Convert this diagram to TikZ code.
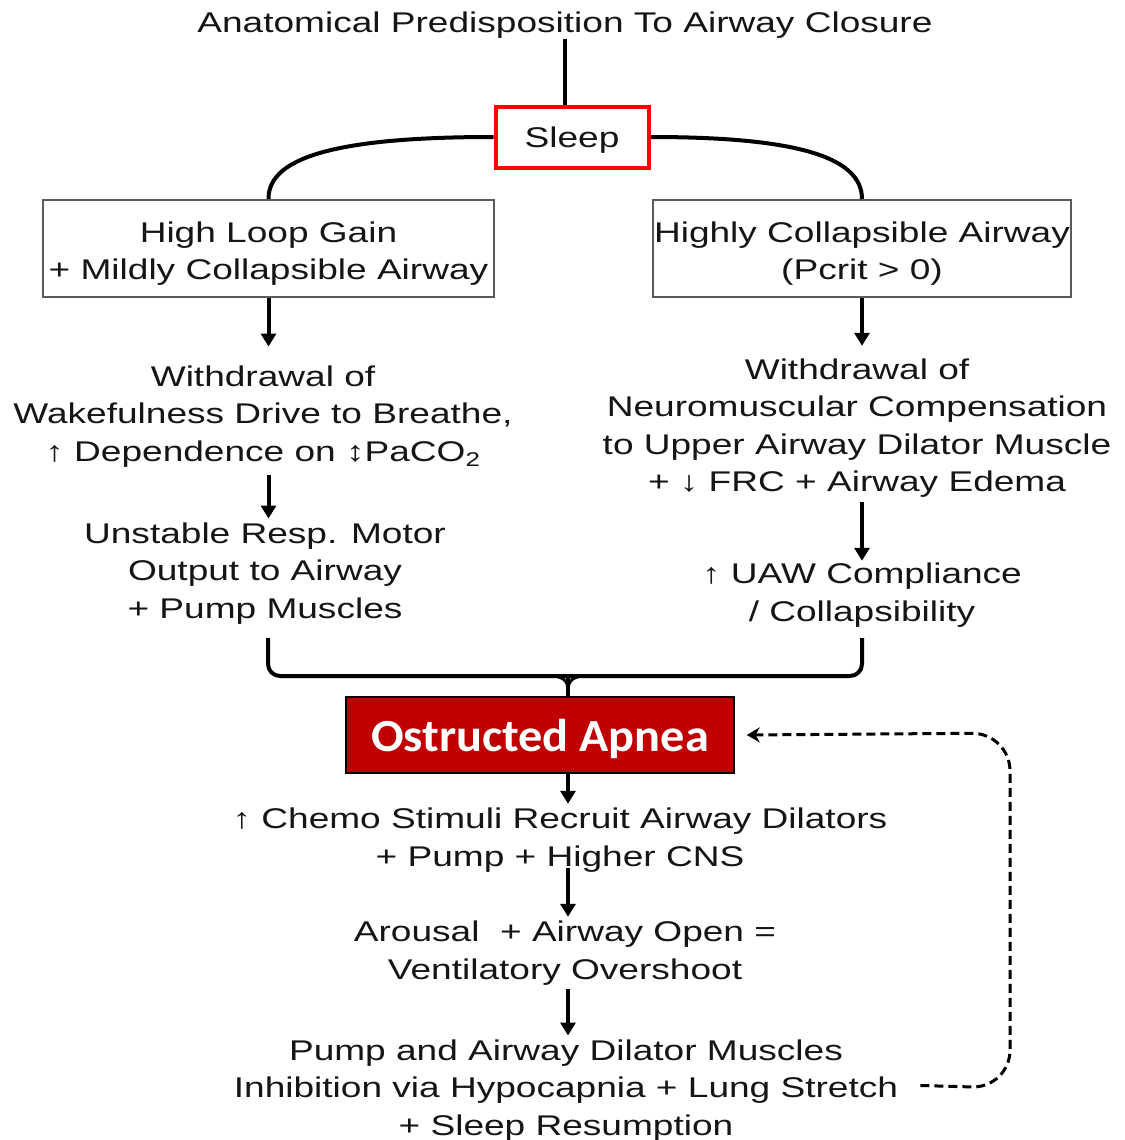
\documentclass[tikz,border=0pt]{standalone}
\usepackage{fontspec}
\setmainfont[FakeStretch=1.3]{Liberation Sans}
\newfontfamily\apneafont[FakeStretch=1.05]{Carlito}
\usetikzlibrary{arrows.meta}
\definecolor{apneared}{HTML}{C00000}
\definecolor{inkgray}{HTML}{151515}
\definecolor{boxgray}{HTML}{5A5A5A}

\begin{document}
\begin{tikzpicture}[x=1pt,y=-1pt,
    txt/.style={align=center,inner sep=0pt,text=inkgray,font=\fontsize{28.5}{37.5}\selectfont},
    note/.style={txt,yshift=-3.5pt},
    graybox/.style={draw=boxgray,line width=2pt,minimum height=97pt},
    flow/.style={line width=4pt,-{Triangle[width=15pt,length=13pt]}},
    link/.style={line width=4pt},
    loopback/.style={line width=3pt,dash pattern=on 9pt off 5pt,rounded corners=38pt,-{Stealth[width=15pt,length=13pt]}}]
  \useasboundingbox (0,0) rectangle (1124,1140);

  \node[note] (top) at (565,22) {Anatomical Predisposition To Airway Closure};
  \node[txt,draw=red,line width=4pt,minimum width=153pt,minimum height=61pt] (sleep) at (572,137) {\rule{0pt}{27pt}Sleep};

  \node[txt,graybox,minimum width=451pt] (lbox) at (268.5,248.5) {\rule{0pt}{31pt}High Loop Gain\\+ Mildly Collapsible Airway};
  \node[txt,graybox,minimum width=418pt] (rbox) at (862,248.5) {\rule{0pt}{31pt}Highly Collapsible Airway\\(Pcrit > 0)};

  \node[note] (ldrive) at (263,413) {Withdrawal of\\Wakefulness Drive to Breathe,\\↑ Dependence on ↕PaCO\textsubscript{2}};
  \node[note] (lmotor) at (265,570) {Unstable Resp. Motor\\Output to Airway\\+ Pump Muscles};

  \node[note] (rcomp) at (857,424.5) {Withdrawal of\\Neuromuscular Compensation\\to Upper Airway Dilator Muscle\\+ ↓ FRC + Airway Edema};
  \node[note] (ruaw) at (862,591.5) {↑ UAW Compliance\\/ Collapsibility};

  \node[draw=black,line width=1.5pt,fill=apneared,text=white,minimum width=388pt,minimum height=76pt,inner sep=0pt,
        font=\apneafont\bfseries\fontsize{46}{50}\selectfont] (apnea) at (540,735) {\rule{0pt}{40pt}Ostructed Apnea};

  \node[note] (chemo) at (560,836.5) {↑ Chemo Stimuli Recruit Airway Dilators\\+ Pump + Higher CNS};
  \node[note] (arousal) at (565,949.5) {Arousal~ + Airway Open =\\Ventilatory Overshoot};
  \node[note] (pump) at (566,1087) {Pump and Airway Dilator Muscles\\Inhibition via Hypocapnia + Lung Stretch\\+ Sleep Resumption};

  \coordinate (lfoot) at (268,638);
  \coordinate (rfoot) at (862,638);
  \coordinate (join) at (568,676);

  \draw[link] (top.south) -- (top.south |- sleep.north);
  \draw[link] (sleep.west) .. controls (345,137) and (268,155) .. (lbox.north);
  \draw[link] (sleep.east) .. controls (790,137) and (862,155) .. (rbox.north);

  \draw[flow,shorten >=19pt] (lbox.south) -- (lbox.south |- ldrive.north);
  \draw[flow,shorten <=8pt,shorten >=4pt] (ldrive.south -| lbox.south) -- (lbox.south |- lmotor.north);
  \draw[flow,shorten >=12.5pt] (rbox.south) -- (rbox.south |- rcomp.north);
  \draw[flow,shorten <=4pt,shorten >=2pt] (rcomp.south -| rbox.south) -- (rbox.south |- ruaw.north);

  \draw[link,rounded corners=12pt] (lfoot) -- (lfoot |- join) -- (rfoot |- join) -- (rfoot);
  \draw[link] (join) -- (join |- apnea.north);
  \draw[line width=3pt] (550,676) .. controls (562,676) and (568,680) .. (568,690);
  \draw[line width=3pt] (586,676) .. controls (574,676) and (568,680) .. (568,690);

  \draw[flow,shorten >=4pt] (join |- apnea.south) -- (join |- chemo.north);
  \draw[flow,shorten <=-4pt,shorten >=4pt] (join |- chemo.south) -- (join |- arousal.north);
  \draw[flow,shorten <=4pt,shorten >=4pt] (join |- arousal.south) -- (join |- pump.north);

  \draw[loopback] ([xshift=22pt,yshift=5pt]pump.east) -- (1010,1088) -- (1010,733) -- ([xshift=12pt]apnea.east);
\end{tikzpicture}
\end{document}
